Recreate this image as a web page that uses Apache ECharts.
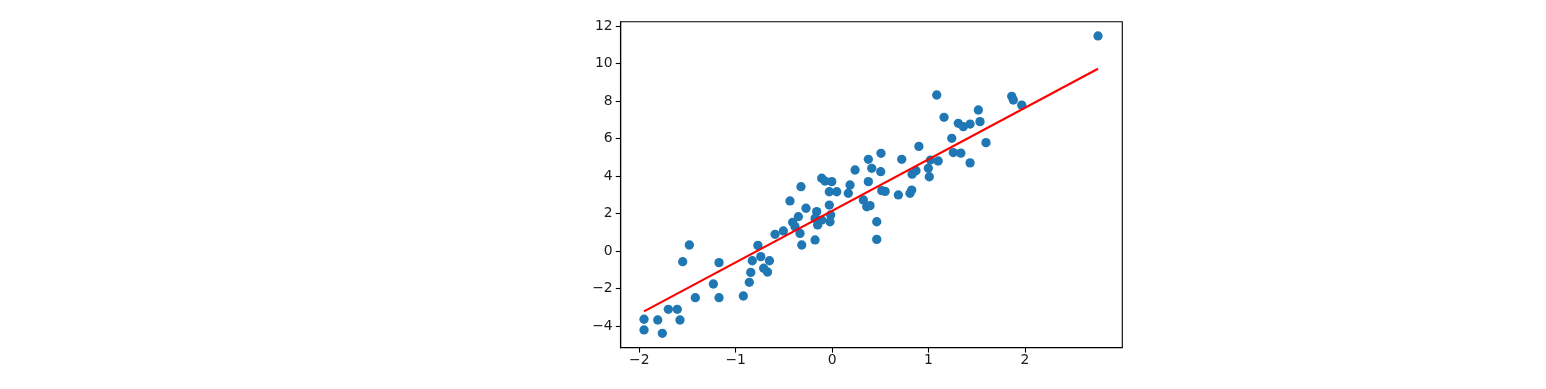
<!DOCTYPE html>
<html>
<head>
<meta charset="utf-8">
<script src="https://cdn.jsdelivr.net/npm/echarts@6/dist/echarts.min.js"></script>
<style>
html,body{margin:0;padding:0;background:#fff;}
#chart{width:1546px;height:389px;}
</style>
</head>
<body>
<div id="chart"></div>
<script>
// Scatter data
const xs = [
 -1.481,-1.55,-1.173,-1.232,-1.419,-1.173,-0.921,-0.859,-0.844,-0.828,
 -0.77,-1.699,-1.606,-1.578,-1.809,-1.951,-1.951,-1.761,
 -0.74,-0.65,-0.71,-0.67,
 -0.592,-0.506,-0.409,-0.350,-0.437,-0.323,-0.271,-0.385,-0.333,-0.315,
 -0.177,-0.160,-0.177,-0.108,-0.029,-0.015,-0.022,-0.108,-0.074,-0.004,
 -0.029,0.048,0.186,0.168,0.238,
 0.507,0.376,0.411,0.504,0.722,0.90,0.87,0.376,0.515,0.687,0.808,0.826,
 0.324,0.359,0.393,0.463,0.463,
 1.241,1.309,1.361,1.431,1.534,1.517,1.596,1.257,1.335,1.431,1.02,1.10,
 0.998,1.008,0.83,1.085,1.161,1.863,1.880,1.967,2.758,
 -0.15,0.55
];
const ys = [
 0.32,-0.57,-0.62,-1.76,-2.49,-2.49,-2.40,-1.67,-1.14,-0.52,
 0.30,-3.11,-3.11,-3.68,-3.68,-3.64,-4.21,-4.39,
 -0.30,-0.52,-0.92,-1.12,
 0.89,1.07,1.53,1.83,2.67,3.43,2.28,1.30,0.94,0.32,
 0.59,2.10,1.74,1.65,2.45,1.92,1.56,3.88,3.73,3.70,
 3.16,3.16,3.52,3.08,4.32,
 5.21,4.89,4.41,4.23,4.89,5.58,4.28,3.70,3.22,2.99,3.08,3.25,
 2.72,2.36,2.42,1.56,0.62,
 6.01,6.81,6.63,6.77,6.90,7.52,5.78,5.25,5.22,4.70,4.85,4.80,
 4.41,3.96,4.10,8.32,7.13,8.25,8.05,7.78,11.47,
 1.39,3.18
];
// Fitted line
const fitSlope = 2.748;
const fitIntercept = 2.14;
// Axis extents and tick labels
const xLimits = [-2.193, 3.010];
const yLimits = [-5.157, 12.23];
const xTicks = [-2, -1, 0, 1, 2];
const yTicks = [-4, -2, 0, 2, 4, 6, 8, 10, 12];

const points = xs.map((x, i) => [x, ys[i]]);
const lx0 = Math.min(...xs), lx1 = Math.max(...xs);
const linePts = [[lx0, fitIntercept + fitSlope * lx0], [lx1, fitIntercept + fitSlope * lx1]];

const fmt = v => String(v).replace('-', '\u2212');
const labelStyle = {color: '#1a1a1a', fontFamily: 'DejaVu Sans', fontSize: 13.9};

const chart = echarts.init(document.getElementById('chart'), null, {renderer: 'canvas'});
chart.setOption({
  animation: false,
  backgroundColor: '#fff',
  grid: {left: 620.7, top: 21.7, right: 423.7, bottom: 41.3, show: true, borderColor: '#000', borderWidth: 1.1, backgroundColor: 'transparent'},
  xAxis: {
    type: 'value', min: xLimits[0], max: xLimits[1],
    splitLine: {show: false},
    axisLine: {show: true, onZero: false, lineStyle: {color: '#000', width: 1.1}},
    axisTick: {show: true, length: 4.9, customValues: xTicks, lineStyle: {color: '#000', width: 1.1}},
    axisLabel: Object.assign({customValues: xTicks, margin: 6, formatter: fmt}, labelStyle)
  },
  yAxis: {
    type: 'value', min: yLimits[0], max: yLimits[1],
    splitLine: {show: false},
    axisLine: {show: true, onZero: false, lineStyle: {color: '#000', width: 1.1}},
    axisTick: {show: true, length: 4.9, customValues: yTicks, lineStyle: {color: '#000', width: 1.1}},
    axisLabel: Object.assign({customValues: yTicks, margin: 8, formatter: fmt}, labelStyle)
  },
  series: [
    {type: 'scatter', data: points, symbol: 'circle', symbolSize: 9.3,
     itemStyle: {color: '#1f77b4', opacity: 1}, z: 2},
    {type: 'line', data: linePts, showSymbol: false, symbol: 'none',
     lineStyle: {color: '#ff0000', width: 2.1}, z: 3}
  ]
});
</script>
</body>
</html>
